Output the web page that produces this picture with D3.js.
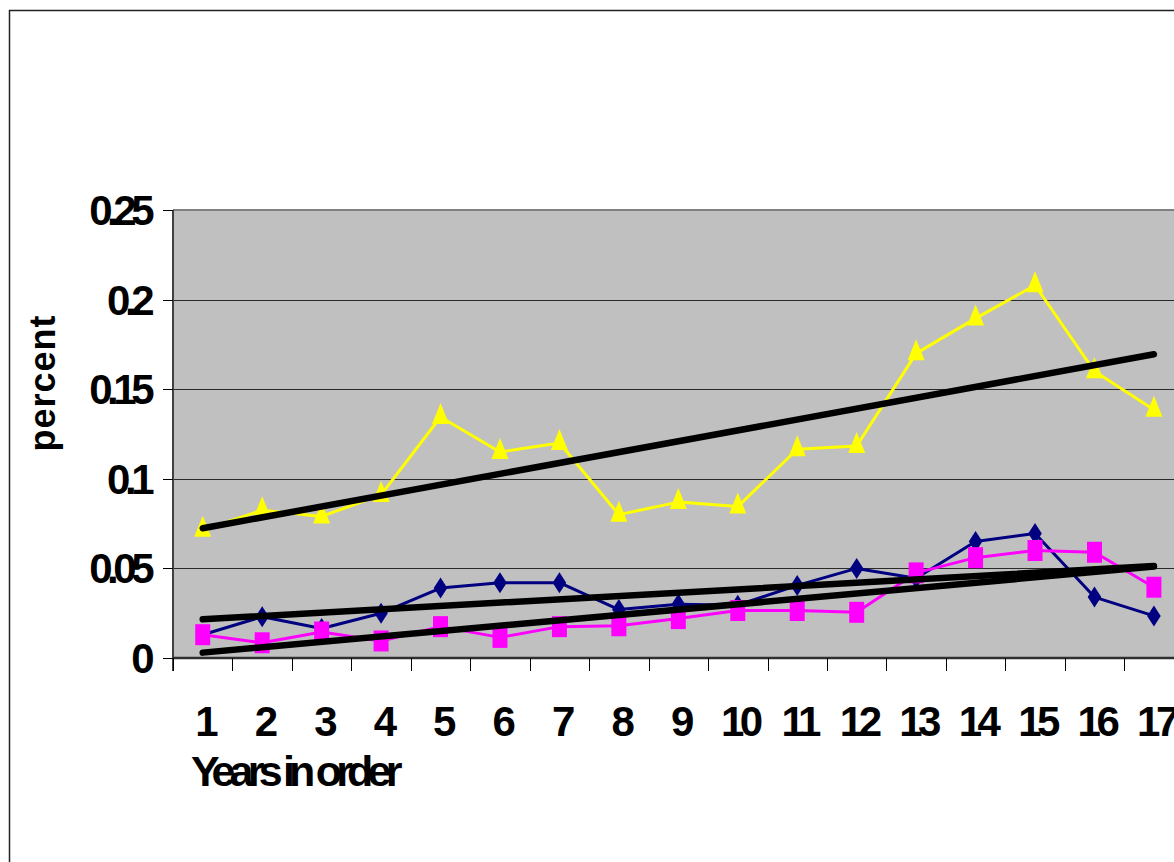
<!DOCTYPE html>
<html>
<head>
<meta charset="utf-8">
<script src="https://cdn.jsdelivr.net/npm/d3@7"></script>
<style>
  html, body { margin: 0; padding: 0; background: #fff; }
  svg { display: block; }
  text { font-family: "Liberation Sans", Arial, sans-serif; font-weight: bold; fill: #000; }
</style>
</head>
<body>
<svg id="chart" width="1174" height="862"></svg>
<script>
// ---- data ----
const years = [1, 2, 3, 4, 5, 6, 7, 8, 9, 10, 11, 12, 13, 14, 15, 16, 17];
const navySeries = [0.013, 0.023, 0.0165, 0.025, 0.039, 0.042, 0.042, 0.027, 0.030, 0.0295, 0.0405, 0.050, 0.0445, 0.065, 0.0695, 0.034, 0.0235];
const magentaSeries = [0.013, 0.0085, 0.0145, 0.0095, 0.0175, 0.0115, 0.0175, 0.018, 0.022, 0.0265, 0.0265, 0.0255, 0.0475, 0.056, 0.060, 0.059, 0.0395];
const yellowSeries = [0.0715, 0.0825, 0.079, 0.091, 0.1345, 0.115, 0.12, 0.080, 0.087, 0.0845, 0.1165, 0.1183, 0.170, 0.1895, 0.208, 0.160, 0.1385];
// trend line end values (at year 1 and year 17)
const navyTrend = [0.0216, 0.0513];
const magentaTrend = [0.003, 0.051];
const yellowTrend = [0.0724, 0.1695];
const yTicks = [0, 0.05, 0.1, 0.15, 0.2, 0.25];
const yTickLabels = ["0", "0.05", "0.1", "0.15", "0.2", "0.25"];
const xTitle = "Years in order";
const yTitle = "percent";

// ---- layout ----
const svg = d3.select("#chart");
const plotL = 173, plotT = 210, plotB = 658, step = 59.45;
const plotR = plotL + step * years.length;

const x = d3.scaleBand().domain(years).range([plotL, plotR]).paddingInner(0).paddingOuter(0);
const y = d3.scaleLinear().domain([0, 0.25]).range([plotB, plotT]);
const cx = d => x(d) + x.bandwidth() / 2;

// outer frame
svg.append("rect").attr("x", 9.5).attr("y", 10.5).attr("width", 1300).attr("height", 1000)
  .attr("fill", "#fff").attr("stroke", "#222").attr("stroke-width", 1.5);

// plot area
svg.append("rect").attr("x", plotL).attr("y", plotT).attr("width", plotR - plotL).attr("height", plotB - plotT)
  .attr("fill", "#C0C0C0");
svg.append("line").attr("x1", plotL).attr("x2", plotR).attr("y1", plotT).attr("y2", plotT)
  .attr("stroke", "#808080").attr("stroke-width", 2);

// gridlines
svg.append("g").selectAll("line").data(yTicks.filter(v => v > 0 && v < 0.25)).join("line")
  .attr("x1", plotL).attr("x2", plotR).attr("y1", d => Math.round(y(d)) + 0.5).attr("y2", d => Math.round(y(d)) + 0.5)
  .attr("stroke", "#2a2a2a").attr("stroke-width", 1);

// axes lines
svg.append("line").attr("x1", plotL).attr("x2", plotL).attr("y1", plotT).attr("y2", plotB + 13)
  .attr("stroke", "#404040").attr("stroke-width", 2);
svg.append("line").attr("x1", plotL).attr("x2", plotR).attr("y1", plotB).attr("y2", plotB)
  .attr("stroke", "#303030").attr("stroke-width", 2.5);

// y ticks + labels
svg.append("g").selectAll("line").data(yTicks).join("line")
  .attr("x1", 163).attr("x2", plotL).attr("y1", d => Math.round(y(d)) + 0.5).attr("y2", d => Math.round(y(d)) + 0.5)
  .attr("stroke", "#000").attr("stroke-width", 1);
svg.append("g").selectAll("text").data(yTicks).join("text")
  .attr("x", 149).attr("y", d => y(d) + 15)
  .attr("text-anchor", "end").attr("font-size", 42).attr("letter-spacing", -5.5)
  .text((d, i) => yTickLabels[i]);

// x ticks + labels
const tickXs = years.map(d => x(d)).concat([plotR]);
svg.append("g").selectAll("line").data(tickXs).join("line")
  .attr("x1", d => Math.round(d) + 0.5).attr("x2", d => Math.round(d) + 0.5).attr("y1", plotB).attr("y2", plotB + 13)
  .attr("stroke", "#000").attr("stroke-width", 1);
svg.append("g").selectAll("text").data(years).join("text")
  .attr("x", d => cx(d) + 2).attr("y", 736)
  .attr("text-anchor", "middle").attr("font-size", 42).attr("letter-spacing", -4.5)
  .text(d => String(d));

// axis titles
svg.append("text").attr("x", 191).attr("y", 786).attr("font-size", 43).attr("letter-spacing", -5.8).text(xTitle);
svg.append("text").attr("transform", "translate(55,383) rotate(-90)").attr("text-anchor", "middle")
  .attr("font-size", 36).attr("letter-spacing", 1).text(yTitle);

// series
const line = d3.line().x((d, i) => cx(years[i])).y(d => y(d));
function drawSeries(vals, color, shape) {
  const g = svg.append("g");
  g.append("path").datum(vals).attr("d", line).attr("fill", "none").attr("stroke", color)
    .attr("stroke-width", 3).attr("stroke-linejoin", "round");
  g.selectAll("path.m").data(vals).join("path").attr("class", "m")
    .attr("transform", (d, i) => `translate(${cx(years[i])},${y(d)})`)
    .attr("d", shape).attr("fill", color);
}
const diamond = "M0,-10.5L6.8,0L0,10.5L-6.8,0Z";
const square = "M-7.5,-10.5H7.5V10.5H-7.5Z";
const triangle = "M0,-14L8.5,7L-8.5,7Z";
drawSeries(navySeries, "#000080", diamond);
drawSeries(magentaSeries, "#FF00FF", square);
drawSeries(yellowSeries, "#FFFF00", triangle);

// trend lines
const tl = svg.append("g");
[navyTrend, magentaTrend, yellowTrend].forEach(t => {
  tl.append("line")
    .attr("x1", cx(years[0])).attr("y1", y(t[0]))
    .attr("x2", cx(years[years.length - 1])).attr("y2", y(t[1]))
    .attr("stroke", "#000").attr("stroke-width", 6.5).attr("stroke-linecap", "round");
});
</script>
</body>
</html>
